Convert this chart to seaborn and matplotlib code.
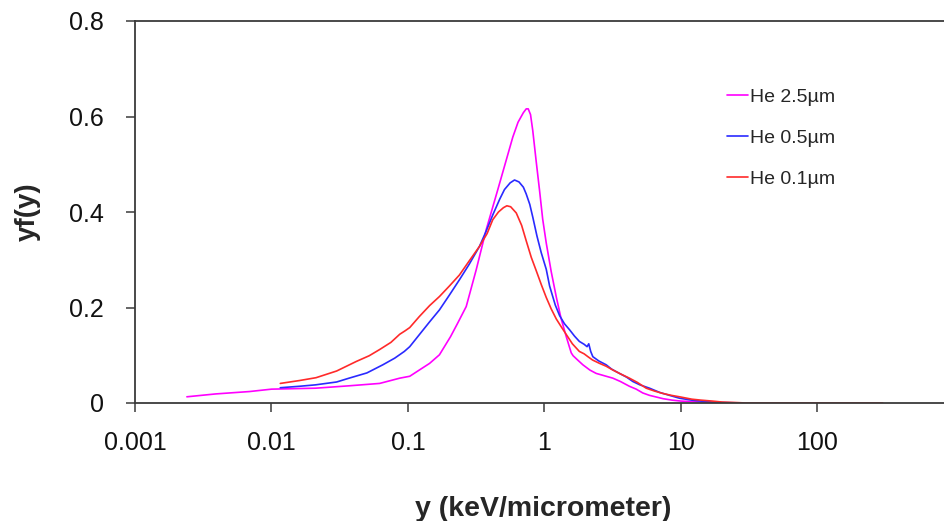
import matplotlib
matplotlib.use("Agg")
import matplotlib.pyplot as plt
from matplotlib.ticker import FixedLocator, FixedFormatter, NullLocator
import seaborn as sns
import pandas as pd

# Microdosimetric spectra yf(y) for three helium track lengths
he25_x = [0.0024, 0.0039, 0.0069, 0.010, 0.021, 0.037, 0.062, 0.087, 0.103, 0.121,
          0.144, 0.170, 0.205, 0.230, 0.267, 0.316, 0.374, 0.455, 0.52, 0.586,
          0.64, 0.70, 0.735, 0.76, 0.79, 0.82, 0.87, 0.92, 0.97, 1.03,
          1.12, 1.22, 1.32, 1.44, 1.52, 1.57, 1.62, 1.75, 1.91, 2.15,
          2.39, 2.75, 3.17, 3.6, 4.19, 4.7, 5.25, 5.88, 7.4, 8.6,
          10, 12, 14, 17, 20]
he25_y = [0.013, 0.019, 0.024, 0.029, 0.031, 0.036, 0.041, 0.052, 0.056, 0.069,
          0.083, 0.101, 0.139, 0.166, 0.202, 0.279, 0.363, 0.447, 0.505, 0.557,
          0.588, 0.608, 0.616, 0.616, 0.604, 0.571, 0.505, 0.445, 0.385, 0.335,
          0.275, 0.222, 0.178, 0.140, 0.118, 0.105, 0.099, 0.090, 0.080, 0.069,
          0.062, 0.057, 0.052, 0.045, 0.035, 0.029, 0.021, 0.016, 0.009, 0.006,
          0.004, 0.003, 0.002, 0.001, 0.000]

he05_x = [0.0116, 0.016, 0.021, 0.030, 0.037, 0.050, 0.0654, 0.080, 0.094, 0.103,
          0.121, 0.144, 0.170, 0.201, 0.238, 0.28, 0.334, 0.374, 0.418, 0.47,
          0.509, 0.56, 0.603, 0.65, 0.70, 0.734, 0.78, 0.821, 0.88, 0.946,
          1.03, 1.09, 1.2, 1.29, 1.4, 1.53, 1.66, 1.80, 1.95, 2.05,
          2.11, 2.18, 2.26, 2.5, 2.83, 3.1, 3.54, 4.0, 4.44, 5.0,
          5.88, 7.0, 8.24, 9.75, 12, 14, 17, 20, 28]
he05_y = [0.032, 0.035, 0.038, 0.044, 0.052, 0.063, 0.080, 0.094, 0.108, 0.118,
          0.143, 0.170, 0.195, 0.226, 0.258, 0.290, 0.328, 0.360, 0.394, 0.427,
          0.447, 0.461, 0.467, 0.463, 0.452, 0.438, 0.416, 0.389, 0.350, 0.315,
          0.280, 0.245, 0.205, 0.183, 0.166, 0.153, 0.140, 0.129, 0.123, 0.118,
          0.124, 0.108, 0.097, 0.088, 0.080, 0.071, 0.062, 0.054, 0.045, 0.038,
          0.031, 0.022, 0.016, 0.010, 0.006, 0.004, 0.002, 0.001, 0.000]

he01_x = [0.0116, 0.016, 0.0212, 0.030, 0.0418, 0.052, 0.062, 0.075, 0.087, 0.095,
          0.103, 0.121, 0.144, 0.170, 0.201, 0.238, 0.28, 0.334, 0.38, 0.418,
          0.46, 0.50, 0.53, 0.565, 0.621, 0.68, 0.734, 0.80, 0.87, 0.95,
          1.03, 1.12, 1.22, 1.33, 1.44, 1.6, 1.8, 1.95, 2.08, 2.25,
          2.53, 2.83, 3.17, 3.6, 4.19, 4.8, 5.56, 6.4, 7.36, 8.5,
          9.75, 12, 14, 17, 20, 25, 30, 60, 120, 300]
he01_y = [0.041, 0.047, 0.053, 0.067, 0.087, 0.099, 0.112, 0.127, 0.144, 0.151,
          0.158, 0.181, 0.204, 0.223, 0.245, 0.268, 0.297, 0.328, 0.355, 0.384,
          0.400, 0.409, 0.413, 0.411, 0.398, 0.372, 0.340, 0.305, 0.277, 0.247,
          0.221, 0.197, 0.176, 0.159, 0.144, 0.124, 0.108, 0.103, 0.097, 0.090,
          0.083, 0.077, 0.069, 0.061, 0.052, 0.043, 0.031, 0.025, 0.020, 0.016,
          0.013, 0.008, 0.006, 0.004, 0.002, 0.001, 0.000, 0.000, 0.000, 0.000]

series_names = ["He 2.5µm", "He 0.5µm", "He 0.1µm"]
series_colors = ["#ff00ff", "#2a2aff", "#ff2a2a"]

x_ticks = [0.001, 0.01, 0.1, 1, 10, 100]
x_tick_labels = ["0.001", "0.01", "0.1", "1", "10", "100"]
y_ticks = [0, 0.2, 0.4, 0.6, 0.8]
y_tick_labels = ["0", "0.2", "0.4", "0.6", "0.8"]

frames = []
for name, xs, ys in zip(series_names,
                        [he25_x, he05_x, he01_x],
                        [he25_y, he05_y, he01_y]):
    frames.append(pd.DataFrame({"y_lin": xs, "yfy": ys, "series": name}))
df = pd.concat(frames, ignore_index=True)

sns.set_style("white")
plt.rcParams["font.family"] = ["Liberation Sans", "DejaVu Sans"]

fig = plt.figure(figsize=(9.45, 5.21), dpi=100)
W, H = 945, 521
ax = fig.add_axes([135 / W, (H - 403) / H, (954 - 135) / W, (403 - 21) / H])

sns.lineplot(data=df, x="y_lin", y="yfy", hue="series", hue_order=series_names,
             palette=dict(zip(series_names, series_colors)), estimator=None,
             sort=False, linewidth=1.2, ax=ax)

ax.set_xscale("log")
ax.set_xlim(0.001, 1000)
ax.set_ylim(0, 0.8)
ax.xaxis.set_major_locator(FixedLocator(x_ticks))
ax.xaxis.set_major_formatter(FixedFormatter(x_tick_labels))
ax.xaxis.set_minor_locator(NullLocator())
ax.yaxis.set_major_locator(FixedLocator(y_ticks))
ax.yaxis.set_major_formatter(FixedFormatter(y_tick_labels))

spine_color = "#3a3a3a"
for side in ["left", "bottom", "top", "right"]:
    ax.spines[side].set_visible(True)
    ax.spines[side].set_color(spine_color)
    ax.spines[side].set_linewidth(1.3)

ax.tick_params(axis="both", which="major", direction="out", length=6.5,
               width=1.1, color=spine_color, labelcolor="#111111",
               labelsize=18, bottom=True, left=True, top=False, right=False)
ax.tick_params(axis="x", pad=14)
ax.tick_params(axis="y", pad=16)

ax.set_xlabel("y (keV/micrometer)", fontsize=20.5, fontweight="bold")
ax.set_ylabel("yf(y)", fontsize=20, fontweight="bold")
ax.xaxis.set_label_coords(0.4988, -0.243)
ax.yaxis.set_label_coords(-0.115, 0.5)

handles, labels = ax.get_legend_handles_labels()
ax.legend(handles, labels, loc="upper left",
          bbox_to_anchor=(727 / W, 1 - 88 / H), bbox_transform=fig.transFigure,
          frameon=False, fontsize=14, handlelength=1.1, handletextpad=0.1,
          labelspacing=1.22, borderpad=0, borderaxespad=0)

fig.savefig("out.png", dpi=100)
